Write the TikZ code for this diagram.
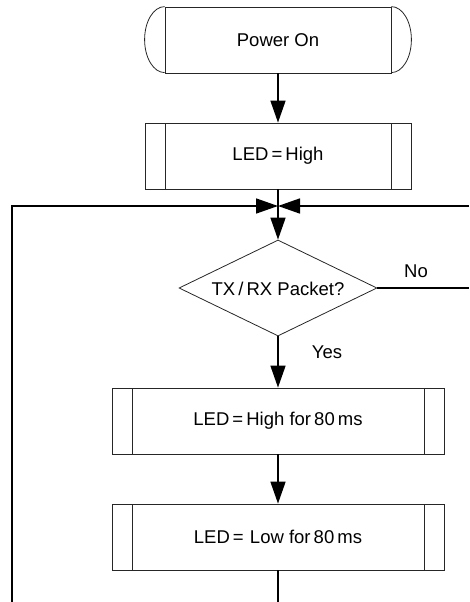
\documentclass[tikz,border=0pt]{standalone}
\usepackage{fontspec}
\setmainfont{Liberation Sans}
\usetikzlibrary{arrows.meta,shapes.geometric}
\tikzset{
  x=1pt, y=-1pt,
  every node/.style={font=\fontsize{18.5}{22}\selectfont, inner sep=0pt},
  outline/.style={draw=black!85, line width=0.8pt},
  procbox/.style={outline, rectangle, minimum width=332pt, minimum height=66pt,
    path picture={
      \draw[black!85, line width=0.8pt]
        ([xshift=20pt]path picture bounding box.north west) -- ([xshift=20pt]path picture bounding box.south west)
        ([xshift=-20pt]path picture bounding box.north east) -- ([xshift=-20pt]path picture bounding box.south east);
    }},
  conn/.style={line width=1.6pt, line cap=butt},
  arr/.style={conn, -{Triangle[length=22pt, width=15pt]}},
  lbl/.style={font=\fontsize{18.5}{22}\selectfont}
}
\begin{document}
\begin{tikzpicture}
\useasboundingbox (0,0) rectangle (469,602);
% Power On terminal
\node[outline, rectangle, minimum width=226pt, minimum height=66pt] (pw) at (278,40) {Power On};
\draw[outline] (pw.north west) arc[start angle=-90, end angle=-270, x radius=20, y radius=33];
\draw[outline] (pw.north east) arc[start angle=-90, end angle=90, x radius=20, y radius=33];
% LED = High
\node[procbox, minimum width=266pt] (b1) at (278,156) {LED\,=\,High};
% merge point
\coordinate (m) at (278,206);
% decision
\node[diamond, outline, aspect=2.06, minimum width=198pt, minimum height=96pt, inner sep=0pt] (d) at (278,288) {};
\node at (278,289) {TX\,/\,RX Packet?};
% boxes
\node[procbox] (b3) at (278,421) {LED\,=\,High for\,80\,ms};
\node[procbox] (b4) at (278,537) {LED\,=\,\,Low for\,80\,ms};
% loose ends
\coordinate (r1) at (469,288);
\coordinate (r2) at (469,206);
\coordinate (l1) at (12,602);
\coordinate (l2) at (12,206);
\coordinate (bt) at (278,602);
% connectors
\draw[arr] (pw.south) -- (b1.north);
\draw[conn] (b1.south) -- (m);
\draw[arr] (m) -- (d.north);
\draw[conn] (d.east) -- (r1);
\draw[arr] (r2) -- (m);
\draw[arr] (l1) -- (l2) -- (m);
\draw[arr] (d.south) -- (b3.north);
\draw[arr] (b3.south) -- (b4.north);
\draw[conn] (b4.south) -- (bt);
% labels
\node[lbl] at (416,271) {No};
\node[lbl] at (327,352) {Yes};
\end{tikzpicture}
\end{document}
